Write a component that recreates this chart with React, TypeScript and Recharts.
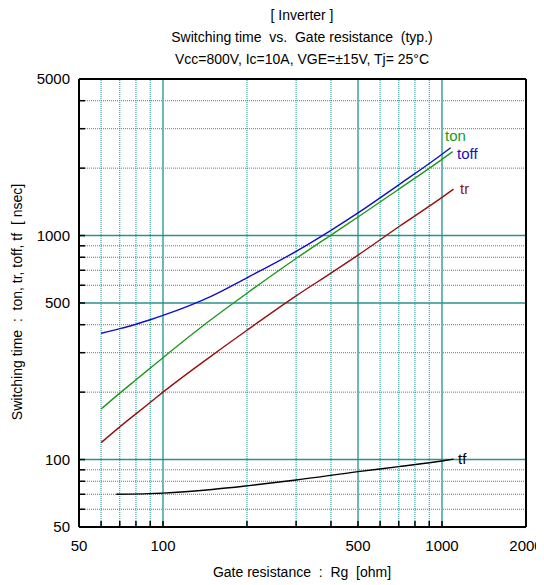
import React from 'react';
import { ComposedChart, Line, XAxis, YAxis, ReferenceLine } from 'recharts';

const rgTon = [60, 70, 80, 90, 100, 150, 200, 300, 400, 500, 700, 1000, 1092];
const tonVals = [168, 198, 227, 256, 285, 425, 553, 790, 1005, 1210, 1610, 2190, 2370];
const rgToff = [60, 70, 80, 90, 100, 150, 200, 300, 400, 500, 700, 1000, 1074];
const toffVals = [366, 384, 402, 421, 440, 538, 648, 850, 1055, 1262, 1685, 2306, 2467];
const rgTr = [60, 70, 80, 90, 100, 150, 200, 300, 400, 500, 700, 1000, 1100];
const trVals = [119, 140, 160, 180, 200, 292, 378, 538, 680, 818, 1095, 1480, 1613];
const rgTf = [68, 100, 150, 200, 300, 500, 700, 1000, 1100];
const tfVals = [70, 70.8, 73.5, 76.3, 81, 88.3, 93, 98.5, 100.5];

const xTicks = [50, 60, 70, 80, 90, 100, 200, 300, 400, 500, 600, 700, 800, 900, 1000, 2000];
const xLabels = [50, 100, 500, 1000, 2000];
const yTicks = [50, 60, 70, 80, 90, 100, 200, 300, 400, 500, 600, 700, 800, 900, 1000, 2000, 3000, 4000, 5000];
const yLabels = [50, 100, 500, 1000, 5000];
const xMajorGrid = [100, 500, 1000];
const xMinorGrid = [60, 70, 80, 90, 200, 300, 400, 600, 700, 800, 900];
const yMajorGrid = [100, 500, 1000];
const yMinorGrid = [60, 70, 80, 90, 200, 300, 400, 600, 700, 800, 900, 2000, 3000, 4000];

const zip = (xs: number[], ys: number[]) => xs.map((rg, i) => ({ rg, v: ys[i] }));
const tonData = zip(rgTon, tonVals);
const toffData = zip(rgToff, toffVals);
const trData = zip(rgTr, trVals);
const tfData = zip(rgTf, tfVals);

const FONT = '"Liberation Sans", Arial, sans-serif';

const XTick = (p: any) =>
  xLabels.includes(p.payload.value) ? (
    <text x={p.x} y={p.y} dy="0.71em" textAnchor="middle" fontSize={15} fill="#000" fontFamily={FONT}>
      {p.payload.value}
    </text>
  ) : (
    <g />
  );

const YTick = (p: any) =>
  yLabels.includes(p.payload.value) ? (
    <text x={p.x} y={p.y} dy="0.355em" textAnchor="end" fontSize={15} fill="#000" fontFamily={FONT}>
      {p.payload.value}
    </text>
  ) : (
    <g />
  );

const abs = (extra: React.CSSProperties): React.CSSProperties => ({
  position: 'absolute',
  fontFamily: FONT,
  fontSize: 14,
  lineHeight: '16px',
  whiteSpace: 'pre',
  color: '#000',
  ...extra,
});

export default function App() {
  const minorStroke = '#1f9595';
  return (
    <div style={{ position: 'relative', width: 536, height: 577 }}>
      <ComposedChart width={536} height={577} margin={{ top: 61, right: 8, bottom: 28, left: 0 }}>
        <XAxis
          dataKey="rg"
          type="number"
          scale="log"
          domain={[50, 2000]}
          allowDataOverflow
          ticks={xTicks}
          interval={0}
          height={30}
          tickSize={-6}
          tickMargin={19}
          tick={XTick}
          axisLine={{ stroke: '#000', strokeWidth: 2 }}
          tickLine={{ stroke: '#000', strokeWidth: 1.5 }}
        />
        <XAxis
          xAxisId="top"
          orientation="top"
          type="number"
          scale="log"
          domain={[50, 2000]}
          allowDataOverflow
          ticks={xTicks}
          interval={0}
          height={10}
          tickSize={-6}
          tick={false}
          axisLine={{ stroke: '#000', strokeWidth: 2 }}
          tickLine={{ stroke: '#000', strokeWidth: 1.5 }}
        />
        <YAxis
          type="number"
          scale="log"
          domain={[50, 5000]}
          allowDataOverflow
          ticks={yTicks}
          interval={0}
          width={71}
          tickSize={-6}
          tickMargin={15}
          tick={YTick}
          axisLine={{ stroke: '#000', strokeWidth: 2 }}
          tickLine={{ stroke: '#000', strokeWidth: 1.5 }}
        />
        <YAxis
          yAxisId="right"
          orientation="right"
          type="number"
          scale="log"
          domain={[50, 5000]}
          allowDataOverflow
          ticks={yTicks}
          interval={0}
          width={10}
          tickSize={-6}
          tick={false}
          axisLine={{ stroke: '#000', strokeWidth: 2 }}
          tickLine={{ stroke: '#000', strokeWidth: 1.5 }}
        />
        {xMinorGrid.map((v) => (
          <ReferenceLine key={'xm' + v} x={v} stroke={minorStroke} strokeWidth={1} strokeDasharray="1 1" />
        ))}
        {yMinorGrid.map((v) => (
          <ReferenceLine key={'ym' + v} y={v} stroke={minorStroke} strokeWidth={1} strokeDasharray="1 1" />
        ))}
        {xMajorGrid.map((v) => (
          <ReferenceLine key={'xM' + v} x={v} stroke="#6cb8b8" strokeWidth={2} />
        ))}
        {yMajorGrid.map((v) => (
          <ReferenceLine key={'yM' + v} y={v} stroke="#2e8f8f" strokeWidth={1.5} />
        ))}
        <Line data={toffData} dataKey="v" type="monotone" stroke="#1010c8" strokeWidth={1.4} dot={false} isAnimationActive={false} />
        <Line data={tonData} dataKey="v" type="monotone" stroke="#1a9a1a" strokeWidth={1.4} dot={false} isAnimationActive={false} />
        <Line data={trData} dataKey="v" type="monotone" stroke="#961010" strokeWidth={1.4} dot={false} isAnimationActive={false} />
        <Line data={tfData} dataKey="v" type="monotone" stroke="#000" strokeWidth={1.4} dot={false} isAnimationActive={false} />
      </ComposedChart>

      <div style={abs({ left: 94, width: 400, top: -1, textAlign: 'center' })}>[ Inverter ]</div>
      <div style={abs({ left: 94, width: 400, top: 21, textAlign: 'center' })}>Switching time  vs.  Gate resistance  (typ.)</div>
      <div style={abs({ left: 94, width: 400, top: 43, textAlign: 'center' })}>Vcc=800V, Ic=10A, VGE=±15V, Tj= 25°C</div>
      <div style={abs({ left: 94, width: 400, top: 556, textAlign: 'center' })}>Gate resistance  :  Rg  [ohm]</div>
      <div
        style={abs({
          left: -191,
          width: 400,
          top: 286,
          textAlign: 'center',
          transform: 'rotate(-90deg)',
        })}
      >
        Switching time  :  ton, tr, toff, tf  [ nsec]
      </div>

      <div style={abs({ left: 437, top: 120, fontSize: 15, color: '#1a9a1a' })}>ton</div>
      <div style={abs({ left: 449, top: 138, fontSize: 15, color: '#1010c8' })}>toff</div>
      <div style={abs({ left: 452, top: 173, fontSize: 15, color: '#961010' })}>tr</div>
      <div style={abs({ left: 450, top: 443, fontSize: 15, color: '#000' })}>tf</div>
    </div>
  );
}
